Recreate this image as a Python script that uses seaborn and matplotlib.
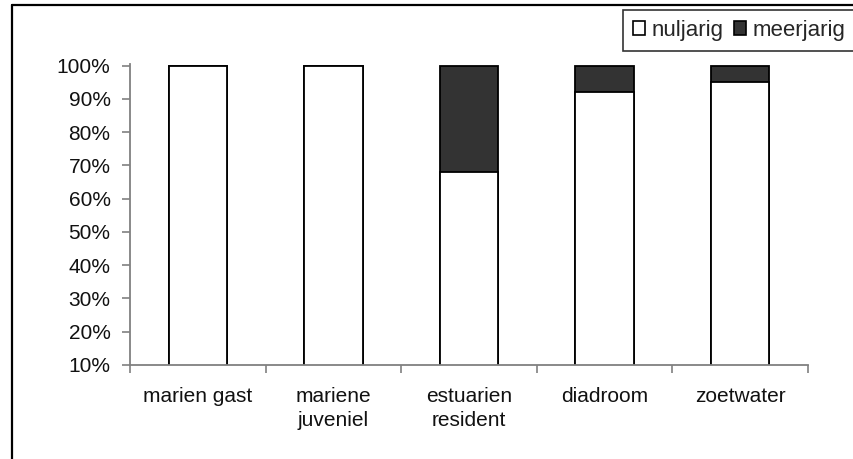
import matplotlib
matplotlib.use("Agg")
import matplotlib.pyplot as plt
from matplotlib.lines import Line2D
from matplotlib.patches import Patch
import numpy as np
import pandas as pd
import seaborn as sns

# Share of young-of-the-year vs. older fish per ecological guild (%)
categories = ["marien gast", "mariene\njuveniel", "estuarien\nresident", "diadroom", "zoetwater"]
nuljarig = [100, 100, 68, 92, 95]
meerjarig = [0, 0, 32, 8, 5]
y_ticks = [10, 20, 30, 40, 50, 60, 70, 80, 90, 100]
y_tick_labels = [f"{v}%" for v in y_ticks]
series_names = ["nuljarig", "meerjarig"]

sns.set_theme(style="white")
plt.rcParams["font.family"] = ["Liberation Sans", "DejaVu Sans"]

df = pd.DataFrame({
    "groep": categories,
    "nuljarig": nuljarig,
    "totaal": np.array(nuljarig) + np.array(meerjarig),
})

fig = plt.figure(figsize=(8.54, 4.59), dpi=100)
ax = fig.add_axes([130 / 854, 1 - 365 / 459, (808 - 130) / 854, (365 - 64) / 459])

dark = "#333333"
# stacked: full column in dark, young-of-the-year part drawn over it in white
sns.barplot(data=df, x="groep", y="totaal", color=dark, width=0.43,
            edgecolor="black", linewidth=1.3, saturation=1, ax=ax)
sns.barplot(data=df, x="groep", y="nuljarig", color="white", width=0.43,
            edgecolor="black", linewidth=1.3, saturation=1, ax=ax)

ax.set_ylim(10, 100.5)
ax.set_xlim(-0.5, len(categories) - 0.5)
ax.set_yticks(y_ticks)
ax.set_yticklabels(y_tick_labels)
ax.set_xlabel("")
ax.set_ylabel("")

# category ticks sit between the columns
ax.set_xticks(np.arange(len(categories)))
ax.set_xticklabels(categories, linespacing=1.3)
ax.set_xticks(np.arange(len(categories) + 1) - 0.5, minor=True)
ax.tick_params(axis="x", which="major", bottom=False, length=0, pad=16,
               labelsize=15, labelcolor="#111111")
ax.tick_params(axis="x", which="minor", bottom=True, length=6, width=1.2,
               color="#808080", direction="out")
ax.tick_params(axis="y", which="major", left=True, length=6, width=1.2, color="#808080",
               direction="out", pad=8, labelsize=15, labelcolor="#111111")

for side in ("top", "right"):
    ax.spines[side].set_visible(False)
for side in ("left", "bottom"):
    ax.spines[side].set_color("#808080")
    ax.spines[side].set_linewidth(1.3)
ax.grid(False)

# chart border (left and top edges)
fig.add_artist(Line2D([12 / 854, 12 / 854], [0, 1 - 5 / 459], transform=fig.transFigure,
                      color="black", linewidth=1.6))
fig.add_artist(Line2D([12 / 854, 1], [1 - 5 / 459, 1 - 5 / 459], transform=fig.transFigure,
                      color="black", linewidth=1.6))

handles = [
    Patch(facecolor="white", edgecolor="black", linewidth=1.2, label=series_names[0]),
    Patch(facecolor=dark, edgecolor="black", linewidth=1.2, label=series_names[1]),
]
leg = fig.legend(handles=handles, loc="upper left", bbox_to_anchor=(623 / 854, 1 - 10 / 459),
                 ncol=2, frameon=True, fancybox=False, fontsize=16,
                 handlelength=0.55, handleheight=0.55, handletextpad=0.3,
                 columnspacing=0.45, borderpad=0.45, borderaxespad=0)
leg.get_frame().set_edgecolor("black")
leg.get_frame().set_linewidth(1.2)

fig.savefig("out.png", dpi=100)
